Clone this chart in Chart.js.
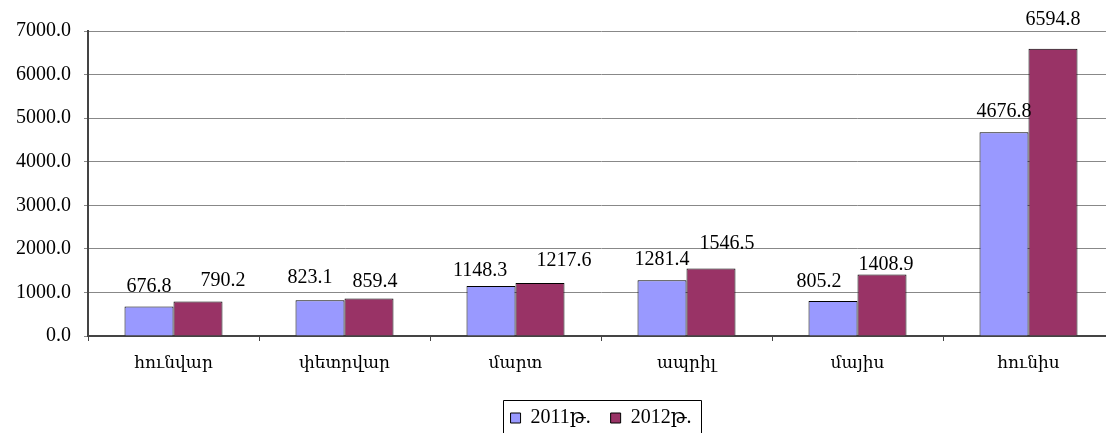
<!DOCTYPE html>
<html>
<head>
<meta charset="utf-8">
<script src="https://cdn.jsdelivr.net/npm/chart.js@4.4.0/dist/chart.umd.min.js"></script>
<style>
  html, body { margin: 0; padding: 0; background: #fff; overflow: hidden; }
  #wrap { width: 1116px; height: 433px; }
</style>
</head>
<body>
<div id="wrap"><canvas id="c" width="1116" height="433"></canvas></div>
<script>
const months = ['հունվար', 'փետրվար', 'մարտ', 'ապրիլ', 'մայիս', 'հունիս'];
const values2011 = [676.8, 823.1, 1148.3, 1281.4, 805.2, 4676.8];
const values2012 = [790.2, 859.4, 1217.6, 1546.5, 1408.9, 6594.8];
const seriesNames = ['2011թ.', '2012թ.'];
const yTicks = [0, 1000, 2000, 3000, 4000, 5000, 6000, 7000];

const serif = "'Liberation Serif', 'DejaVu Serif', serif";

// small label nudges so value labels sit like the original (px, relative to bar top)
const labelNudge = [
  { dx: [0, -10, -11, 0, -14, 0], dy: [0, -2, 5, 0, 1, 0] },
  { dx: [25, 6, 24, 16, 4, 0], dy: [-1, 3, -2, -5, 10, -9] }
];

const valueLabels = {
  id: 'valueLabels',
  afterDatasetsDraw(chart) {
    const ctx = chart.ctx;
    ctx.save();
    ctx.font = '20px ' + serif;
    ctx.fillStyle = '#000';
    ctx.textAlign = 'center';
    ctx.textBaseline = 'middle';
    chart.data.datasets.forEach((ds, di) => {
      const meta = chart.getDatasetMeta(di);
      meta.data.forEach((bar, i) => {
        const n = labelNudge[di];
        ctx.fillText(ds.data[i].toFixed(1), bar.x + n.dx[i], bar.y - 20 + n.dy[i]);
      });
    });
    ctx.restore();
  }
};

const legendFrame = {
  id: 'legendFrame',
  afterDraw(chart) {
    const boxes = chart.legend && chart.legend.legendHitBoxes;
    if (!boxes || !boxes.length) return;
    const first = boxes[0], last = boxes[boxes.length - 1];
    const ctx = chart.ctx;
    ctx.save();
    ctx.strokeStyle = '#000';
    ctx.lineWidth = 1;
    const l = Math.round(first.left - 8) + 0.5;
    const r = Math.round(last.left + last.width + 10) + 0.5;
    const t = Math.round(first.top - 8) + 0.5;
    ctx.beginPath();
    ctx.moveTo(l, chart.height + 5);
    ctx.lineTo(l, t);
    ctx.lineTo(r, t);
    ctx.lineTo(r, chart.height + 5);
    ctx.stroke();
    ctx.restore();
  }
};

new Chart(document.getElementById('c'), {
  type: 'bar',
  data: {
    labels: months,
    datasets: [
      {
        label: seriesNames[0],
        data: values2011,
        backgroundColor: '#9999FF',
        borderColor: '#000',
        borderWidth: 1,
        barPercentage: 1,
        categoryPercentage: 0.573
      },
      {
        label: seriesNames[1],
        data: values2012,
        backgroundColor: '#993366',
        borderColor: '#000',
        borderWidth: 1,
        barPercentage: 1,
        categoryPercentage: 0.573
      }
    ]
  },
  options: {
    responsive: false,
    animation: false,
    layout: { padding: { top: 31, right: 2, left: 0, bottom: -5 } },
    plugins: {
      tooltip: { enabled: false },
      legend: {
        position: 'bottom',
        fullSize: false,
        labels: {
          boxWidth: 10,
          boxHeight: 10,
          padding: 20,
          color: '#000',
          font: { family: serif, size: 20 }
        }
      }
    },
    scales: {
      x: {
        afterFit(scale) { scale.height = 52; },
        grid: { drawOnChartArea: false, drawTicks: true, tickLength: 5, color: '#444' },
        border: { display: true, color: '#444', width: 2 },
        ticks: {
          color: '#000',
          padding: 12,
          font: { family: "'DejaVu Serif', 'DejaVu Sans', serif", size: 17 }
        }
      },
      y: {
        min: 0,
        max: 7000,
        afterFit(scale) { scale.width = 88; },
        afterBuildTicks(scale) { scale.ticks = yTicks.map(v => ({ value: v })); },
        grid: { color: '#888', lineWidth: 1, drawTicks: true, tickLength: 4 },
        border: { display: true, color: '#444', width: 2 },
        ticks: {
          color: '#000',
          padding: 13,
          font: { family: serif, size: 20 },
          callback: v => Number(v).toFixed(1)
        }
      }
    }
  },
  plugins: [valueLabels, legendFrame]
});
</script>
</body>
</html>
